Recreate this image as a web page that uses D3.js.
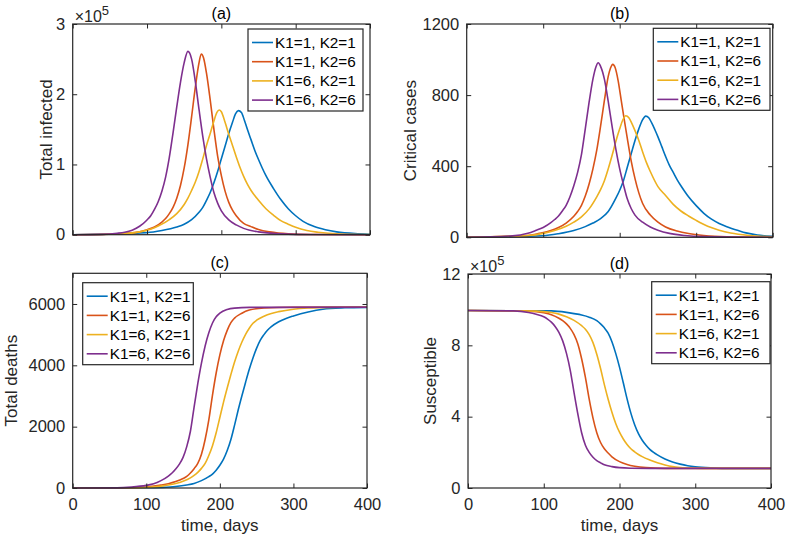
<!DOCTYPE html>
<html>
<head>
<meta charset="utf-8">
<script src="https://cdn.jsdelivr.net/npm/d3@7"></script>
<style>
  body { margin: 0; background: #fff; }
  svg { display: block; font-family: "Liberation Sans", Arial, Helvetica, sans-serif; }
</style>
</head>
<body>
<svg id="chart" width="787" height="537"></svg>
<script>
var seriesNames = ["K1=1, K2=1", "K1=1, K2=6", "K1=6, K2=1", "K1=6, K2=6"];
var seriesColors = ["#0072BD", "#D95319", "#EDB120", "#7E2F8E"];
var xTicks = [0, 100, 200, 300, 400];

// (a) total infected, in units of 1e5, [day, value]
var infectedK11 = [[0,0],[100,0.03],[120,0.06],[140,0.11],[150,0.15],[160,0.215],[170,0.32],[175,0.39],[180,0.49],[185,0.6],[190,0.74],[195,0.9],[200,1.08],[205,1.26],[210,1.44],[215,1.6],[219,1.72],[223,1.766],[227,1.74],[231,1.63],[235,1.5],[240,1.35],[245,1.2],[250,1.07],[255,0.95],[260,0.84],[270,0.66],[280,0.5],[290,0.37],[300,0.27],[310,0.19],[325,0.115],[340,0.07],[355,0.04],[380,0.015],[400,0.007]];
var infectedK16 = [[0,0],[60,0.01],[90,0.04],[100,0.07],[110,0.11],[120,0.18],[125,0.23],[130,0.3],[135,0.39],[140,0.52],[145,0.7],[150,0.95],[155,1.28],[160,1.68],[165,2.1],[170,2.45],[173,2.573],[176,2.52],[180,2.3],[185,1.92],[190,1.5],[195,1.12],[200,0.84],[205,0.62],[210,0.46],[215,0.35],[220,0.27],[230,0.16],[240,0.115],[250,0.075],[265,0.04],[290,0.012],[320,0.003],[400,0]];
var infectedK61 = [[0,0],[60,0.01],[90,0.04],[100,0.065],[110,0.1],[120,0.15],[130,0.215],[140,0.3],[150,0.43],[155,0.52],[160,0.63],[165,0.75],[170,0.9],[175,1.08],[180,1.27],[185,1.44],[190,1.62],[194,1.74],[197,1.776],[200,1.75],[205,1.6],[210,1.43],[215,1.27],[220,1.11],[225,0.96],[230,0.83],[235,0.72],[240,0.63],[250,0.49],[260,0.37],[270,0.28],[280,0.2],[290,0.15],[300,0.105],[315,0.06],[330,0.035],[360,0.01],[400,0.002]];
var infectedK66 = [[0,0],[40,0.005],[60,0.02],[70,0.035],[80,0.065],[90,0.12],[100,0.21],[105,0.27],[110,0.36],[115,0.47],[120,0.62],[125,0.82],[130,1.1],[135,1.45],[140,1.82],[145,2.17],[150,2.45],[155,2.61],[160,2.5],[165,2.18],[170,1.78],[175,1.4],[180,1.08],[185,0.82],[190,0.6],[195,0.45],[200,0.34],[210,0.21],[220,0.14],[230,0.09],[250,0.04],[280,0.012],[320,0.002],[400,0]];

// (b) critical cases
var criticalK11 = [[0,0],[100,9],[120,20],[140,38],[155,60],[165,80],[175,105],[185,145],[195,220],[200,265],[205,320],[210,395],[215,470],[220,545],[225,610],[230,662],[234,682],[238,672],[242,642],[246,605],[250,565],[255,510],[260,455],[265,405],[270,365],[275,325],[280,290],[285,258],[290,228],[300,178],[310,135],[320,102],[330,78],[340,60],[355,38],[365,25],[380,13],[400,6]];
var criticalK16 = [[0,0],[80,10],[95,22],[110,38],[120,55],[130,80],[140,118],[145,145],[150,180],[155,232],[160,300],[165,385],[170,490],[175,625],[180,770],[185,905],[188,952],[191,973],[194,955],[198,880],[202,770],[206,660],[210,555],[215,430],[220,330],[225,250],[230,190],[240,125],[250,85],[260,58],[275,35],[290,21],[310,10],[340,3],[400,0]];
var criticalK61 = [[0,0],[80,10],[100,22],[115,38],[130,62],[140,85],[150,115],[160,160],[170,228],[175,268],[180,318],[185,385],[190,460],[195,540],[200,610],[204,660],[208,684],[212,672],[216,640],[220,600],[225,545],[230,480],[235,420],[240,370],[250,285],[260,235],[270,185],[280,148],[290,120],[300,95],[315,62],[330,40],[345,24],[370,10],[400,3]];
var criticalK66 = [[0,0],[60,8],[80,23],[90,38],[100,55],[110,82],[115,100],[120,120],[125,148],[130,180],[135,228],[140,290],[145,365],[150,465],[155,610],[160,760],[165,890],[169,960],[172,982],[175,962],[180,890],[185,765],[190,625],[195,495],[200,385],[205,295],[210,215],[215,162],[220,125],[230,85],[240,58],[250,40],[265,22],[285,10],[310,4],[400,0]];

// (c) total deaths
var deathsK11 = [[0,0],[100,8],[120,20],[140,50],[155,100],[165,150],[175,240],[185,370],[190,455],[195,580],[200,740],[205,940],[210,1220],[215,1580],[220,2050],[225,2550],[230,3010],[235,3450],[240,3870],[245,4240],[250,4560],[255,4820],[260,5000],[265,5150],[270,5260],[280,5420],[290,5530],[300,5610],[320,5740],[340,5830],[370,5875],[400,5890]];
var deathsK16 = [[0,0],[80,8],[100,35],[120,95],[130,140],[140,210],[150,310],[155,380],[160,490],[165,630],[170,800],[175,1100],[180,1580],[185,2220],[190,3030],[195,3750],[200,4340],[205,4800],[210,5140],[215,5390],[220,5540],[230,5700],[240,5800],[260,5870],[300,5893],[400,5896]];
var deathsK61 = [[0,0],[80,6],[100,20],[120,60],[130,95],[140,145],[150,220],[160,330],[165,410],[170,510],[175,640],[180,800],[185,1060],[190,1380],[195,1800],[200,2300],[205,2800],[210,3260],[215,3700],[220,4110],[225,4460],[230,4760],[235,5010],[240,5210],[245,5370],[250,5470],[260,5600],[270,5690],[280,5750],[300,5830],[320,5870],[350,5890],[400,5896]];
var deathsK66 = [[0,0],[60,5],[80,30],[100,85],[110,135],[120,240],[130,390],[135,490],[140,620],[145,780],[150,1000],[155,1350],[160,1850],[165,2640],[170,3400],[175,4070],[180,4630],[185,5060],[190,5380],[195,5580],[200,5700],[210,5820],[220,5865],[240,5890],[400,5896]];

// (d) susceptible, in units of 1e5
var susceptibleK11 = [[0,9.95],[110,9.93],[130,9.85],[140,9.78],[150,9.7],[160,9.58],[170,9.38],[175,9.2],[180,8.98],[185,8.68],[190,8.2],[195,7.55],[200,6.78],[205,5.9],[210,5.0],[215,4.2],[220,3.55],[225,3.05],[230,2.68],[235,2.4],[240,2.17],[245,2.0],[250,1.86],[260,1.63],[270,1.46],[280,1.34],[290,1.25],[300,1.19],[320,1.13],[350,1.1],[400,1.1]];
var susceptibleK16 = [[0,9.95],[80,9.92],[100,9.83],[110,9.72],[120,9.52],[125,9.38],[130,9.2],[135,8.95],[140,8.6],[145,8.08],[150,7.25],[155,6.2],[160,4.98],[165,3.92],[170,3.1],[175,2.55],[180,2.2],[185,1.96],[190,1.75],[200,1.48],[210,1.32],[220,1.22],[235,1.14],[260,1.1],[400,1.1]];
var susceptibleK61 = [[0,9.95],[90,9.92],[110,9.84],[120,9.75],[130,9.6],[140,9.4],[150,9.1],[155,8.9],[160,8.6],[165,8.15],[170,7.5],[175,6.7],[180,5.8],[185,4.98],[190,4.25],[195,3.62],[200,3.13],[205,2.75],[210,2.44],[215,2.2],[220,2.03],[225,1.88],[230,1.76],[240,1.57],[250,1.41],[260,1.29],[270,1.2],[280,1.15],[300,1.11],[320,1.1],[400,1.1]];
var susceptibleK66 = [[0,9.95],[60,9.93],[80,9.84],[90,9.74],[100,9.6],[105,9.47],[110,9.3],[115,9.06],[120,8.73],[125,8.25],[130,7.55],[135,6.6],[140,5.35],[145,4.15],[150,3.1],[155,2.4],[160,2.0],[165,1.72],[170,1.53],[175,1.41],[180,1.3],[190,1.2],[200,1.14],[215,1.11],[240,1.1],[400,1.1]];

var axisColor = "#262626";

var panels = [
    { title: "(a)", yLabel: "Total infected", yMax: 3, yTicks: [0, 1, 2, 3], exponent: true, xLabels: false,
      series: [infectedK11, infectedK16, infectedK61, infectedK66],
      left: 72.7, right: 370, top: 24, bottom: 234.7, yLabelX: 52,
      legend: { x: 248, y: 29, w: 115 } },
    { title: "(b)", yLabel: "Critical cases", yMax: 1200, yTicks: [0, 400, 800, 1200], exponent: false, xLabels: false,
      series: [criticalK11, criticalK16, criticalK61, criticalK66],
      left: 466.7, right: 772.7, top: 24, bottom: 237.3, yLabelX: 415.5,
      legend: { x: 653.3, y: 28.3, w: 116.7 } },
    { title: "(c)", yLabel: "Total deaths", yMax: 7000, yTicks: [0, 2000, 4000, 6000], exponent: false, xLabels: true,
      series: [deathsK11, deathsK16, deathsK61, deathsK66],
      left: 72.7, right: 367, top: 273.3, bottom: 488, yLabelX: 16.5,
      legend: { x: 82.7, y: 282.7, w: 110.6 } },
    { title: "(d)", yLabel: "Susceptible", yMax: 12, yTicks: [0, 4, 8, 12], exponent: true, xLabels: true,
      series: [susceptibleK11, susceptibleK16, susceptibleK61, susceptibleK66],
      left: 468, right: 771, top: 274, bottom: 488, yLabelX: 436,
      legend: { x: 651.7, y: 281.7, w: 118.3 } }
];

var svg = d3.select("#chart");

panels.forEach(function(p) {
    var x = d3.scaleLinear().domain([0, 400]).range([p.left, p.right]);
    var y = d3.scaleLinear().domain([0, p.yMax]).range([p.bottom, p.top]);
    var g = svg.append("g");

    var line = d3.line()
        .x(function(d) { return x(d[0]); })
        .y(function(d) { return y(d[1]); })
        .curve(d3.curveMonotoneX);

    p.series.forEach(function(s, i) {
        g.append("path")
            .datum(s)
            .attr("d", line)
            .attr("fill", "none")
            .attr("stroke", seriesColors[i])
            .attr("stroke-width", 1.6);
    });

    // inward ticks on all four sides
    var axes = [
        { ax: d3.axisBottom(x).tickValues(xTicks), tr: "translate(0," + p.bottom + ")", labels: p.xLabels, pad: 10 },
        { ax: d3.axisTop(x).tickValues(xTicks), tr: "translate(0," + p.top + ")", labels: false, pad: 7.5 },
        { ax: d3.axisLeft(y).tickValues(p.yTicks), tr: "translate(" + p.left + ",0)", labels: true, pad: 7.5 },
        { ax: d3.axisRight(y).tickValues(p.yTicks), tr: "translate(" + p.right + ",0)", labels: false, pad: 7.5 }
    ];
    axes.forEach(function(a) {
        a.ax.tickSize(-4.5).tickPadding(a.pad).tickFormat(a.labels ? d3.format("d") : "");
        var ag = g.append("g").attr("transform", a.tr).call(a.ax);
        ag.select(".domain").remove();
        ag.selectAll(".tick line").attr("stroke", axisColor).attr("stroke-width", 1);
        ag.selectAll(".tick text")
            .attr("fill", axisColor)
            .style("font-size", "16.5px")
            .style("font-family", "'Liberation Sans', Arial, Helvetica, sans-serif");
    });

    g.append("rect")
        .attr("x", p.left).attr("y", p.top)
        .attr("width", p.right - p.left).attr("height", p.bottom - p.top)
        .attr("fill", "none")
        .attr("stroke", axisColor)
        .attr("stroke-width", 1.2);

    // title
    g.append("text")
        .attr("x", (p.left + p.right) / 2)
        .attr("y", p.top - 5)
        .attr("text-anchor", "middle")
        .attr("fill", "#000")
        .style("font-size", "16px")
        .text(p.title);

    // y label
    g.append("text")
        .attr("transform", "translate(" + p.yLabelX + "," + ((p.top + p.bottom) / 2) + ") rotate(-90)")
        .attr("text-anchor", "middle")
        .attr("fill", axisColor)
        .style("font-size", "17px")
        .text(p.yLabel);

    if (p.xLabels) {
        g.append("text")
            .attr("x", (p.left + p.right) / 2)
            .attr("y", 531)
            .attr("text-anchor", "middle")
            .attr("fill", axisColor)
            .style("font-size", "17px")
            .text("time, days");
    }

    if (p.exponent) {
        var ex = g.append("text")
            .attr("x", p.left + 2)
            .attr("y", p.top - 2.5)
            .attr("fill", axisColor)
            .style("font-size", "16px");
        ex.append("tspan").text("\u00d710");
        ex.append("tspan").attr("dy", -7).style("font-size", "13px").text("5");
    }

    // legend
    var lg = g.append("g").attr("transform", "translate(" + p.legend.x + "," + p.legend.y + ")");
    lg.append("rect")
        .attr("width", p.legend.w).attr("height", 82)
        .attr("fill", "#fff")
        .attr("stroke", axisColor)
        .attr("stroke-width", 1.2);
    seriesNames.forEach(function(name, i) {
        var ry = 13.5 + i * 19.2;
        lg.append("line")
            .attr("x1", 4).attr("x2", 25)
            .attr("y1", ry).attr("y2", ry)
            .attr("stroke", seriesColors[i])
            .attr("stroke-width", 1.6);
        lg.append("text")
            .attr("x", 27)
            .attr("y", ry)
            .attr("dy", "0.35em")
            .attr("fill", "#000")
            .style("font-size", "15.3px")
            .text(name);
    });
});
</script>
</body>
</html>
